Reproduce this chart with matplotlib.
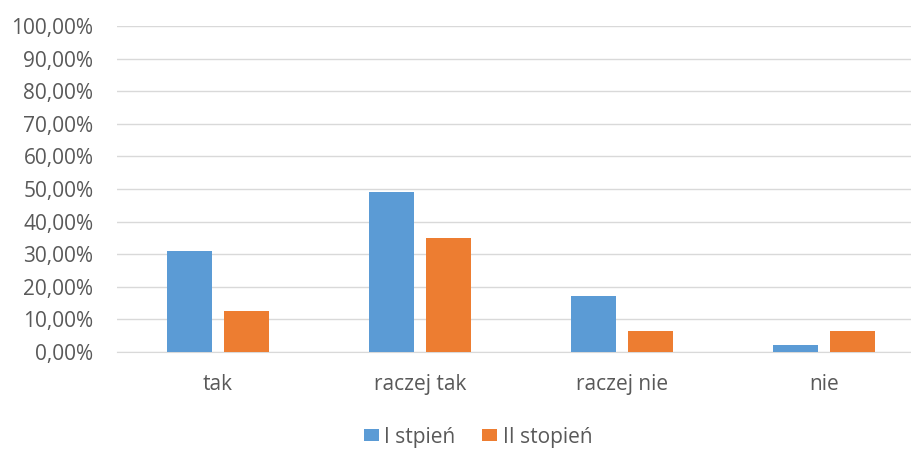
import matplotlib
matplotlib.use("Agg")
import matplotlib.pyplot as plt
import numpy as np
from matplotlib.ticker import FuncFormatter

categories = ["tak", "raczej tak", "raczej nie", "nie"]
series_names = ["I stpień", "II stopień"]
s1 = [30.9, 49.0, 17.1, 2.0]
s2 = [12.7, 35.0, 6.3, 6.3]
colors = ["#5B9BD5", "#ED7D31"]

plt.rcParams['font.family'] = ['Open Sans', 'DejaVu Sans']
fig = plt.figure(figsize=(9.12, 4.49), dpi=100)
ax = fig.add_axes([117/912, 1-352/449, 808/912, 326/449])

x = np.arange(len(categories))
w = 0.223
off = 0.142
ax.bar(x - off, s1, w, color=colors[0], label=series_names[0], zorder=3)
ax.bar(x + off, s2, w, color=colors[1], label=series_names[1], zorder=3)

ax.set_xlim(-0.5, len(categories) - 0.5)
ax.set_ylim(0, 100)
ax.set_yticks(np.arange(0, 101, 10))
ax.yaxis.set_major_formatter(FuncFormatter(lambda v, p: f"{v:.2f}%".replace(".", ",")))
ax.grid(axis='y', color='#d9d9d9', linewidth=1, zorder=0)
for s in ax.spines.values():
    s.set_visible(False)
ax.spines['bottom'].set_visible(True)
ax.spines['bottom'].set_color('#d9d9d9')
ax.tick_params(axis='both', length=0, colors='#595959', labelsize=15)
ax.tick_params(axis='y', pad=17)
ax.tick_params(axis='x', pad=16)
ax.set_xticks(x)
ax.set_xticklabels(categories)

leg = fig.legend(loc='center', bbox_to_anchor=(478/912, 1-437/449), ncol=2, frameon=False,
                 fontsize=15, handlelength=0.72, handleheight=0.55, handletextpad=0.25,
                 columnspacing=1.3, labelcolor='#595959', borderpad=0)
fig.savefig("out.png", dpi=100)
